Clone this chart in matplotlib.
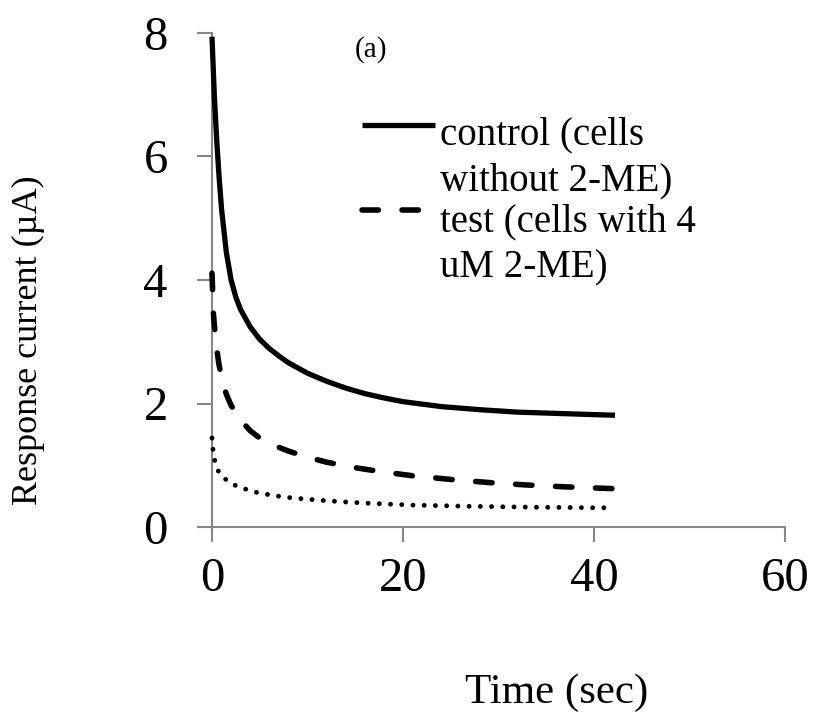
import numpy as np
import matplotlib
matplotlib.use("Agg")
from matplotlib import pyplot as plt
from matplotlib.lines import Line2D

plt.rcParams['font.family'] = ['Liberation Serif', 'DejaVu Serif']

# temps (s) et courant de reponse (uA) pour chaque serie
t_control = [0, 0.25, 0.5, 0.75, 1.0, 1.5, 2.0, 2.5, 3.0, 4.0, 5.0, 6.0, 7.0, 8.0, 10, 12, 14, 16, 18, 20, 24, 28, 32, 36, 40, 42.2]
i_control = [7.94, 6.96, 6.25, 5.65, 5.15, 4.45, 4.0, 3.72, 3.52, 3.24, 3.04, 2.89, 2.77, 2.66, 2.49, 2.36, 2.25, 2.16, 2.09, 2.03, 1.95, 1.90, 1.86, 1.84, 1.82, 1.81]

t_test = [0, 0.15, 0.4, 0.7, 1.0, 1.5, 2.0, 3.0, 4.0, 5.0, 6.5, 8.0, 10, 12, 15, 18, 21, 25, 29, 33, 37, 42.2]
i_test = [4.11, 3.45, 3.0, 2.66, 2.42, 2.15, 1.97, 1.73, 1.56, 1.44, 1.32, 1.23, 1.13, 1.05, 0.96, 0.89, 0.83, 0.77, 0.72, 0.68, 0.65, 0.62]

t_low = [0, 0.1, 0.3, 0.7, 1.2, 1.7, 2.6, 3.8, 4.9, 6.1, 7.3, 8.5, 10, 12, 14, 17, 21, 27, 34, 41.7]
i_low = [1.44, 1.26, 1.07, 0.89, 0.80, 0.74, 0.66, 0.60, 0.55, 0.52, 0.49, 0.47, 0.45, 0.425, 0.405, 0.38, 0.355, 0.335, 0.32, 0.31]

labels = ["control (cells\nwithout 2-ME)", "test (cells with 4\nuM 2-ME)"]

W, H = 815, 713
fig = plt.figure(figsize=(W / 100, H / 100), dpi=100)
ax = fig.add_axes([212 / W, 1 - 527 / H, (785 - 212) / W, (527 - 33) / H])

grey = '#868686'
solid = dict(color='black', lw=3.8, solid_capstyle='butt', solid_joinstyle='round')
dashed = dict(color='black', lw=4.0, linestyle=(0, (2.96, 4.24)), dash_capstyle='round')
dotted = dict(color='black', lw=3.5, linestyle=(0, (0.01, 2.3)), dash_capstyle='round')

ax.plot(t_control, i_control, clip_on=False, zorder=5, **solid)
ax.plot(t_test, i_test, clip_on=False, zorder=5, **dashed)
ax.plot(t_low, i_low, clip_on=False, zorder=5, **dotted)

ax.set_xlim(0, 60)
ax.set_ylim(0, 8)
ax.set_xticks([0, 20, 40, 60])
ax.set_yticks([0, 2, 4, 6, 8])

for s in ['top', 'right']:
    ax.spines[s].set_visible(False)
for s in ['left', 'bottom']:
    ax.spines[s].set_color(grey)
    ax.spines[s].set_linewidth(1.5)

ax.tick_params(axis='both', direction='out', length=10.8, width=1.5, color=grey, labelsize=35)
ax.tick_params(axis='y', pad=21)
ax.tick_params(axis='x', pad=11)

# legende faite a la main (va='baseline' -> ligne du bas)
fig.add_artist(Line2D([362 / W, 435 / W], [1 - 125 / H, 1 - 125 / H], transform=fig.transFigure, **solid))
fig.add_artist(Line2D([362 / W, 435 / W], [1 - 210 / H, 1 - 210 / H], transform=fig.transFigure, **dashed))
fig.text(440 / W, 1 - 190 / H, labels[0], fontsize=28, va='baseline', ha='left', linespacing=1.29)
fig.text(440 / W, 1 - 277 / H, labels[1], fontsize=28, va='baseline', ha='left', linespacing=1.29)

fig.text(371 / W, 1 - 50 / H, "(a)", fontsize=21, ha='center', va='center')

fig.text(557 / W, 1 - 703 / H, "Time (sec)", fontsize=31, ha='center', va='baseline')
fig.text(28 / W, 1 - 340 / H, "Response current (\u00b5A)", fontsize=26, rotation=90, ha='center', va='center')

fig.savefig("out.png", dpi=100)
